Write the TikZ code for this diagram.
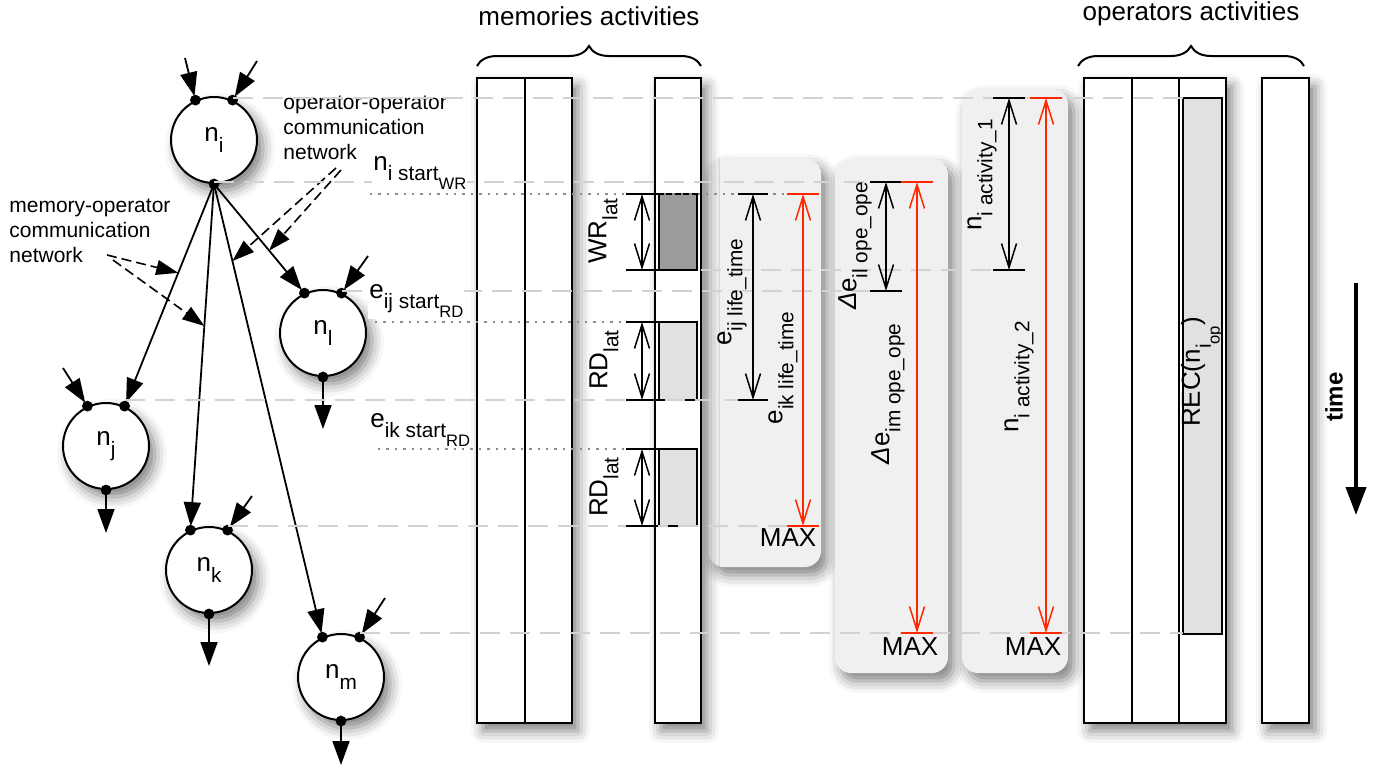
\documentclass[tikz,border=0pt]{standalone}
\usepackage{fontspec}
\setmainfont{Liberation Sans}
\usepackage{graphicx}
\usetikzlibrary{arrows.meta,shadows.blur,decorations.pathreplacing,calc}
\definecolor{tred}{RGB}{255,40,0}
\definecolor{lgray}{RGB}{210,210,210}
\definecolor{boxgray}{RGB}{240,240,240}
\definecolor{wrgray}{RGB}{155,155,155}
\definecolor{rdgray}{RGB}{225,225,225}
\newcommand\sbx[1]{\raisebox{-0.42em}{\scalebox{0.8}{#1}}}
\begin{document}
\begin{tikzpicture}[x=0.5pt,y=-0.5pt,
  font=\fontsize{13}{15.6}\selectfont,
  shd/.style={blur shadow={shadow xshift=3pt, shadow yshift=-4pt, shadow blur radius=6pt, shadow opacity=50}},
  opnode/.style={circle, draw, line width=1pt, fill=white, minimum size=43pt, inner sep=0pt, shd},
  col/.style={draw, line width=1pt, fill=white, shd},
  gbox/.style={fill=boxgray, rounded corners=8pt, shd},
  tl/.style={draw=lgray, line width=1pt, dash pattern=on 10pt off 5pt},
  dl/.style={draw=black!45, line width=0.8pt, dash pattern=on 1.2pt off 3pt},
  edgea/.style={line width=0.9pt, -{Triangle[length=12pt,width=8.5pt,fill=black]}, shorten >=2pt},
  comm/.style={line width=0.8pt, dash pattern=on 5pt off 2.5pt, -{Triangle[length=11pt,width=7.5pt,fill=black]}},
  dimar/.style={line width=0.75pt, {Straight Barb[length=12pt,width=7.5pt]}-{Straight Barb[length=12pt,width=7.5pt]}},
  barl/.style={line width=1pt},
  lbl/.style={fill=white, inner sep=0.5pt, anchor=base west},
  commtext/.style={font=\fontsize{10.5}{12.5}\selectfont, align=left, inner sep=0pt, anchor=north west},
  dotc/.style={circle, fill, inner sep=0pt, minimum size=5.4pt}
]
\useasboundingbox (0,0) rectangle (1379,772);

% rounded grey boxes
\path[gbox] (708,158) rectangle (821,567);
\path[gbox] (835,159) rectangle (948,673);
\path[gbox] (962,89) rectangle (1068,673);

% columns
\draw[col] (477,78) rectangle (572,723);
\draw[line width=1pt] (525,78) -- (525,723);
\draw[col] (655,78) rectangle (701,723);
\draw[col] (1084,78) rectangle (1226,723);
\draw[line width=1pt] (1132,78) -- (1132,723);
\draw[line width=1pt] (1179,78) -- (1179,723);
\draw[col] (1262,78) rectangle (1309,723);

% braces and titles
\draw[line width=1pt, decorate, decoration={brace, amplitude=10pt}] (477,66) -- (701,66);
\draw[line width=1pt, decorate, decoration={brace, amplitude=10pt}] (1078,66) -- (1304,66);
\node (memt) at (589,16) {memories activities};
\node (opt) at (1191,14) {operators activities};

% boxes inside columns
\draw[line width=1pt, fill=wrgray] (659,194) rectangle (697,270);
\draw[line width=1pt, fill=rdgray] (659,322) rectangle (697,400);
\draw[line width=1pt, fill=rdgray] (659,449) rectangle (697,526);
\draw[line width=1pt, fill=rdgray] (1183,98) rectangle (1222,634);

% operator graph
\node[opnode] (ni) at (214,140) {n\sbx{i}};
\node[opnode] (nl) at (323,333) {n\sbx{l}};
\node[opnode] (nj) at (106,446) {n\sbx{j}};
\node[opnode] (nk) at (209,570) {n\sbx{k}};
\node[opnode] (nm) at (341,677) {n\sbx{m}};
\foreach \n in {ni,nl,nj,nk,nm}{
  \coordinate (\n-a) at (\n.115);
  \coordinate (\n-b) at (\n.65);
  \coordinate (\n-o) at (\n.south);
}
\coordinate (ni-s1) at (185,58);
\coordinate (ni-s2) at (257,61);
\coordinate (nl-s2) at (368,256);
\coordinate (nj-s1) at (63,368);
\coordinate (nk-s2) at (252,496);
\coordinate (nm-s2) at (385,598);
\coordinate (nl-t) at (323,429);
\coordinate (nj-t) at (106,533);
\coordinate (nk-t) at (209,666);
\coordinate (nm-t) at (341,765);

\draw[edgea] (ni-s1) -- (ni-a);
\draw[edgea] (ni-s2) -- (ni-b);
\draw[edgea] (nl-s2) -- (nl-b);
\draw[edgea] (nj-s1) -- (nj-a);
\draw[edgea] (nk-s2) -- (nk-b);
\draw[edgea] (nm-s2) -- (nm-b);
\draw[edgea, shorten >=0pt] (nl-o) -- (nl-t);
\draw[edgea, shorten >=0pt] (nj-o) -- (nj-t);
\draw[edgea, shorten >=0pt] (nk-o) -- (nk-t);
\draw[edgea, shorten >=0pt] (nm-o) -- (nm-t);
\draw[edgea] (ni-o) -- (nj-b);
\draw[edgea] (ni-o) -- (nk-a);
\draw[edgea] (ni-o) -- (nm-a);
\draw[edgea] (ni-o) -- (nl-a);
\foreach \n in {ni,nl,nj,nk,nm}{
  \node[dotc] at (\n-a) {};
  \node[dotc] at (\n-b) {};
  \node[dotc] at (\n-o) {};
}

% communication network labels
\node[commtext] (oot) at (283,96) {operator-operator\\communication\\network};
\node[commtext] (mot) at (9,199) {memory-operator\\communication\\network};
\coordinate (oo1) at (336,168);
\coordinate (oo2) at (341,170);
\coordinate (mo1) at (107,255);
\coordinate (mo2) at (113,260);
\draw[comm] (oo1) -- ($(ni-o)!0.17!(nm-a)$);
\draw[comm] (oo2) -- ($(ni-o)!0.61!(nl-a)$);
\draw[comm] (mo1) -- ($(ni-o)!0.40!(nj-b)$);
\draw[comm] (mo2) -- ($(ni-o)!0.41!(nk-a)$);

% time lines (grey dashed)
\coordinate (recT) at (1183,98);
\coordinate (recB) at (1183,633);
\coordinate (dilT) at (870,182);
\coordinate (wrR) at (701,270);
\coordinate (a1B) at (993,270);
\coordinate (dilB) at (870,291);
\coordinate (eijB) at (738,400);
\coordinate (eikB) at (787,526);
\draw[tl] (ni-b |- recT) -- (recT);
\draw[tl] (ni-o |- dilT) -- (dilT);
\draw[tl] (wrR) -- (a1B);
\draw[tl] (nl-b |- dilB) -- (dilB);
\draw[tl] (nj-b |- eijB) -- (eijB);
\draw[tl] (nk-b |- eikB) -- (eikB);
\draw[tl] (nm-b |- recB) -- (recB);

% start labels
\node[lbl] (lwr) at (372,170) {n\sbx{i start\sbx{WR}}};
\node[lbl] (lrd1) at (368,298) {e\sbx{ij start\sbx{RD}}};
\node[lbl] (lrd2) at (369,427) {e\sbx{ik start\sbx{RD}}};

% dotted lines
\draw[dl] (370,194) -- (787,194);
\draw[dl] (375,322) -- (659,322);
\draw[dl] (378,449) -- (659,449);

% dimension arrows
\foreach \x/\ya/\yb/\h/\c in {642/194/270/16/black, 642/322/400/16/black, 642/449/526/16/black,
   753/194/400/15/black, 803/194/526/16/tred, 886/182/291/16/black, 917/182/633/16/tred,
   1009/98/270/16/black, 1046/98/633/16/tred}{
  \draw[barl, \c] (\x-\h,\ya) -- (\x+\h,\ya);
  \draw[barl, \c] (\x-\h,\yb) -- (\x+\h,\yb);
  \draw[dimar, \c] (\x,\ya) -- (\x,\yb);
}

% rotated labels
\node[rotate=90] (wrl) at (603,231) {WR\sbx{lat}};
\node[rotate=90] (rdl1) at (604,360) {RD\sbx{lat}};
\node[rotate=90] (rdl2) at (604,487) {RD\sbx{lat}};
\node[rotate=90] (eijl) at (732,292) {e\sbx{ij life\_time}};
\node[rotate=90] (eikl) at (783,368) {e\sbx{ik life\_time}};
\node[rotate=90] (dill) at (855,246) {{\itshape Δ}e\sbx{il ope\_ope}};
\node[rotate=90] (diml) at (888,394) {{\itshape Δ}e\sbx{im ope\_ope}};
\node[rotate=90] (a1l) at (982,175) {n\sbx{i activity\_1}};
\node[rotate=90] (a2l) at (1019,377) {n\sbx{i activity\_2}};
\node[rotate=90] (recl) at (1202,372) {REC(n\sbx{i\sbx{op}})};

\node (max1) at (788,538) {MAX};
\node (max2) at (910,647) {MAX};
\node (max3) at (1033,647) {MAX};

% time arrow
\coordinate (tm1) at (1356,283);
\coordinate (tm2) at (1356,515);
\draw[line width=2pt, -{Triangle[length=14pt,width=10pt,fill=black]}] (tm1) -- (tm2);
\node[rotate=90, font=\bfseries\fontsize{12}{14}\selectfont] (timel) at (1334,397) {time};
\end{tikzpicture}
\end{document}
